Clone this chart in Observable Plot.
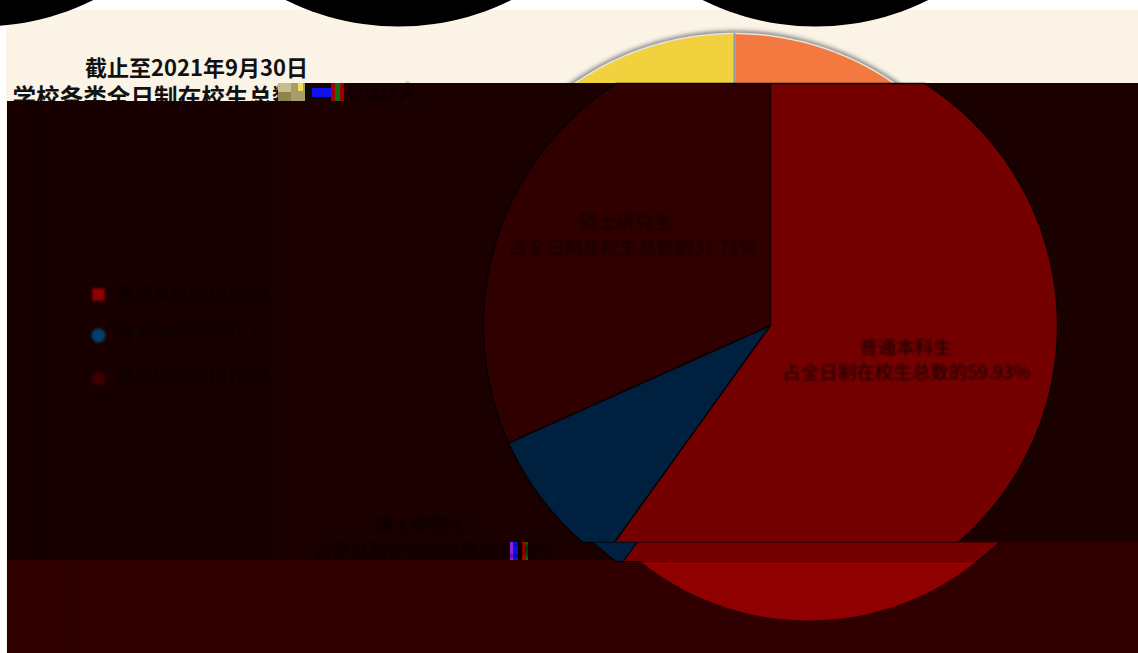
<!DOCTYPE html>
<html lang="zh">
<head>
<meta charset="utf-8">
<script src="https://cdn.jsdelivr.net/npm/d3@7"></script>
<script src="https://cdn.jsdelivr.net/npm/@observablehq/plot@0.6"></script>
<style>
html,body{margin:0;padding:0;background:#fff;overflow:hidden}
svg{display:block}
.soft{filter:blur(.8px)}
.shadow{filter:blur(2px)}
</style>
</head>
<body>
<div id="chart"></div>
<script>
// Data, read or estimated from the picture
const asOf = "截止至2021年9月30日";
const totalLabel = "学校各类全日制在校生总数为";
const categories = ["普通本科生", "博士研究生", "硕士研究生"];
const students = [19178, 2676, 10148];
const darkColors = ["#750000", "#00203f", "#300000"];
const brightColors = ["#f27a40", "#4a90c8", "#f2d13f"];

const total = d3.sum(students);
const slices = d3.pie().sort(null)(students);

// Polygon helpers: the photographed picture is cut in bands, each with its own pie circle
const circlePoints = (cx, cy, rx, ry = rx) =>
  d3.range(0, 360, 2).map(d => {
    const a = d * Math.PI / 180;
    return [cx + rx * Math.sin(a), cy - ry * Math.cos(a)];
  });
const sector = (s, cx, cy, r) => {
  const deg = (s.endAngle - s.startAngle) * 180 / Math.PI;
  const pts = [[cx, cy]];
  for (const d of [...d3.range(0, deg, 1), deg]) {
    const a = s.startAngle + d * Math.PI / 180;
    pts.push([cx + r * Math.sin(a), cy - r * Math.cos(a)]);
  }
  return pts;
};
const clipHalf = (pts, y0, keepBelow) => {
  const inside = p => keepBelow ? p[1] >= y0 : p[1] <= y0;
  const out = [];
  pts.forEach((p, i) => {
    const q = pts[(i + 1) % pts.length];
    if (inside(p)) out.push(p);
    if (inside(p) !== inside(q)) {
      const t = (y0 - p[1]) / (q[1] - p[1]);
      out.push([p[0] + t * (q[0] - p[0]), y0]);
    }
  });
  return out;
};
const clipBand = (pts, y0, y1) => clipHalf(clipHalf(pts, y0, true), y1, false);
const shape = (pts, fill, key) => pts.map(p => ({x: p[0], y: p[1], fill, key}));

const pieBand = (cx, cy, r, colors, y0, y1, tag) =>
  slices.flatMap((s, i) => shape(clipBand(sector(s, cx, cy, r), y0, y1), colors[i], tag + i));

const lightPie = slices.flatMap((s, i) => shape(sector(s, 734, 314, 281), brightColors[i], "l" + i));
const mainPie = pieBand(770, 325, 287, darkColors, 83, 542, "m");
const shiftedPie = pieBand(796, 320, 301, darkColors, 542, 561, "s");
const lobe = shape(clipBand(circlePoints(808, 352, 268), 561, 653), "#900000", "b");
const blobs = [[-20, 26], [398, 26], [815, 26]].flatMap(([cx, b], i) =>
  shape(circlePoints(cx, b - 254, 254), "#000", "k" + i));

// Damaged blocks of the photographed picture
const blocks = [
  {x1: 0, x2: 1138, y1: 0, y2: 10, fill: "#fff"},
  {x1: 6, x2: 1138, y1: 10, y2: 653, fill: "#fbf3e6"}
];
const darkBlocks = [
  {x1: 7, x2: 1138, y1: 560, y2: 653, fill: "#300000"},
  {x1: 960, x2: 1138, y1: 542, y2: 653, fill: "#300000"},
  {x1: 278, x2: 960, y1: 83, y2: 560, fill: "#1b0000"},
  {x1: 960, x2: 1138, y1: 83, y2: 542, fill: "#1b0000"},
  {x1: 7, x2: 278, y1: 101, y2: 560, fill: "#190000"},
  {x1: 25, x2: 42, y1: 101, y2: 560, fill: "#140000"},
  {x1: 60, x2: 78, y1: 560, y2: 653, fill: "#2a0000"}
];
const noise = [
  {x1: 278, x2: 291, y1: 83, y2: 92, fill: "#c9bb8c"},
  {x1: 278, x2: 291, y1: 92, y2: 101, fill: "#8c8550"},
  {x1: 291, x2: 305, y1: 83, y2: 101, fill: "#a79d6c"},
  {x1: 298, x2: 303, y1: 83, y2: 91, fill: "#f0df60"},
  {x1: 305, x2: 312, y1: 83, y2: 101, fill: "#120800"},
  {x1: 312, x2: 331, y1: 88, y2: 97, fill: "#1010f0"},
  {x1: 331, x2: 335, y1: 83, y2: 101, fill: "#a00000"},
  {x1: 335, x2: 340, y1: 83, y2: 101, fill: "#087010"},
  {x1: 340, x2: 344, y1: 83, y2: 101, fill: "#a00000"},
  {x1: 344, x2: 349, y1: 83, y2: 101, fill: "#2a0000"},
  {x1: 510, x2: 513, y1: 542, y2: 560, fill: "#9020e0"},
  {x1: 513, x2: 518, y1: 542, y2: 560, fill: "#1010f0"},
  {x1: 518, x2: 522, y1: 542, y2: 560, fill: "#0c0000"},
  {x1: 522, x2: 526, y1: 542, y2: 560, fill: "#b00000"},
  {x1: 526, x2: 528, y1: 542, y2: 560, fill: "#087010"}
];

const font = "'Noto Sans CJK SC', sans-serif";
const pct = i => (students[i] / total * 100).toFixed(2) + "%";
const share = i => "占全日制在校生总数的" + pct(i);
const sliceLabels = [
  {t: categories[0], x: 905, y: 348, c: "#140000"},
  {t: share(0), x: 906, y: 373, c: "#140000"},
  {t: categories[2], x: 625, y: 223, c: "#120000"},
  {t: share(2), x: 632, y: 248, c: "#120000"},
  {t: categories[1], x: 420, y: 526, c: "#0a0000"},
  {t: share(1), x: 432, y: 551, c: "#0a0000"}
];
const legendRows = [
  {t: categories[0] + students[0] + "人", y: 294, c: "#900000", s: "square"},
  {t: categories[1] + students[1] + "人", y: 335, c: "#00406e", s: "circle"},
  {t: categories[2] + students[2] + "人", y: 378, c: "#3c0000", s: "circle"}
];

const rects = (data, extra = {}) =>
  Plot.rect(data, {x1: "x1", x2: "x2", y1: "y1", y2: "y2", fill: "fill", ...extra});
const poly = (data, extra = {}) =>
  Plot.line(data, {x: "x", y: "y", z: "key", fill: "fill", stroke: null, curve: "linear", ...extra});

const chart = Plot.plot({
  width: 1138, height: 653,
  margin: 0, marginTop: 0, marginRight: 0, marginBottom: 0, marginLeft: 0,
  x: {domain: [0, 1138], range: [0, 1138], axis: null},
  y: {domain: [0, 653], range: [0, 653], axis: null},
  color: {type: "identity"},
  style: {background: "#fff", fontFamily: font},
  marks: [
    rects(blocks),
    poly(shape(circlePoints(734, 314, 284), "#8a8a8a", "halo"), {className: "shadow"}),
    poly(lightPie, {stroke: "#e8e4d8", strokeWidth: 1.5}),
    Plot.ruleX([734], {y1: 33, y2: 83, stroke: "#8f9aa5", strokeWidth: 2}),
    Plot.text([asOf], {x: 196, y: 68, text: d => d, fontSize: 22, fontWeight: 700, fill: "#111", fontFamily: font}),
    Plot.text([totalLabel], {x: 12, y: 98, text: d => d, textAnchor: "start", fontSize: 23.6, fontWeight: 700, fill: "#111", fontFamily: font}),
    rects(darkBlocks),
    rects(noise),
    Plot.text([total + "人"], {x: 417, y: 93, text: d => d, textAnchor: "end", fontSize: 20, fill: "#0a0000", fontFamily: font, className: "soft"}),
    poly(mainPie, {stroke: "#0a0000", strokeWidth: 1.5}),
    poly(shiftedPie, {stroke: "#0a0000", strokeWidth: 1.2}),
    poly(lobe),
    Plot.text(sliceLabels, {x: "x", y: "y", text: "t", fill: "c", fontSize: 18.5, fontFamily: font, className: "soft"}),
    Plot.dot(legendRows, {x: 98, y: "y", r: 7, symbol: "s", fill: "c", className: "soft"}),
    Plot.text(legendRows, {x: 116, y: "y", text: "t", textAnchor: "start", fill: "#0a0000", fontSize: 18, fontFamily: font, className: "soft"}),
    poly(blobs)
  ]
});
document.getElementById("chart").append(chart);
</script>
</body>
</html>
